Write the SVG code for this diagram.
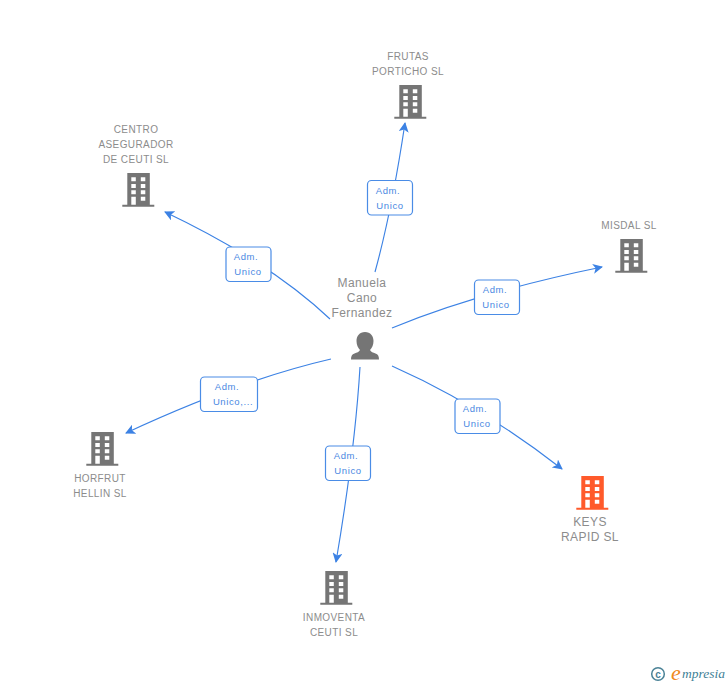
<svg xmlns="http://www.w3.org/2000/svg" width="728" height="685" viewBox="0 0 728 685">
<style>
.t{font-family:"Liberation Sans",Arial,sans-serif;font-size:10px;fill:#8c8c8c;text-anchor:middle;letter-spacing:.4px}
.p{font-size:12px}
.k{font-size:12px}
.l{font-family:"Liberation Sans",Arial,sans-serif;font-size:9.500px;fill:#4a88e2;text-anchor:middle;letter-spacing:.6px}
.c{fill:none;stroke:#3c82e4;stroke-width:1.150}
.b{fill:#fff;stroke:#4a8ce6;stroke-width:1.200}
</style>
<defs>
<marker id="a" markerWidth="12" markerHeight="10" refX="9" refY="5" orient="auto" markerUnits="userSpaceOnUse"><path d="M0 0L10 5L0 10L2.500 5Z" fill="#3c82e4"/></marker>
<symbol id="bld" width="32" height="34" viewBox="0 0 32 34" overflow="visible"><path fill-rule="evenodd" d="M5 0H27.500V31.700H32V33.700H0V31.700H5ZM9 4.300V8.300H13.500V4.300ZM18.500 4.300V8.300H23V4.300ZM9 11V15H13.500V11ZM18.500 11V15H23V11ZM9 17.300V21.300H13.500V17.300ZM18.500 17.300V21.300H23V17.300ZM9 23.700V31.700H13.500V23.700ZM18.500 23.700V27.700H23V23.700Z"/></symbol>
</defs>
<g id="connectors">
<path class="c" d="M375 272Q392 210 405 123" marker-end="url(#a)"/>
<path class="c" d="M330 319Q270 262 165 212" marker-end="url(#a)"/>
<path class="c" d="M392 328Q480 292 602 267" marker-end="url(#a)"/>
<path class="c" d="M392 366Q480 405 562 469" marker-end="url(#a)"/>
<path class="c" d="M331 359Q240 380 126 433" marker-end="url(#a)"/>
<path class="c" d="M360 367Q355 450 336 562" marker-end="url(#a)"/>
</g>
<g id="label-frutas"><rect class="b" x="367.500" y="180.500" width="45" height="34.500" rx="4"/><text class="l" x="388" y="194">Adm.</text><text class="l" x="390" y="209">Unico</text></g>
<g id="label-centro"><rect class="b" x="226" y="247" width="45" height="34.500" rx="4"/><text class="l" x="246" y="260">Adm.</text><text class="l" x="248" y="275">Unico</text></g>
<g id="label-misdal"><rect class="b" x="474.500" y="280" width="45" height="34.500" rx="4"/><text class="l" x="495" y="293">Adm.</text><text class="l" x="496" y="308">Unico</text></g>
<g id="label-keys"><rect class="b" x="455" y="399" width="45" height="34.500" rx="4"/><text class="l" x="475" y="412">Adm.</text><text class="l" x="477" y="427">Unico</text></g>
<g id="label-horfrut"><rect class="b" x="200.500" y="377" width="57" height="34.500" rx="4"/><text class="l" x="227" y="390">Adm.</text><text class="l" x="233" y="405">Unico,...</text></g>
<g id="label-inmoventa"><rect class="b" x="325.500" y="446" width="45" height="34.500" rx="4"/><text class="l" x="346" y="459">Adm.</text><text class="l" x="348" y="474">Unico</text></g>
<g id="person"><text class="t p" x="362" y="287">Manuela</text><text class="t p" x="362" y="302">Cano</text><text class="t p" x="362" y="317">Fernandez</text>
<path fill="#757575" d="M365 332C370.500 332 373.500 336 373.500 341C373.500 345 372 348 370 350C371 352 373 352.500 375.500 353.500C378 354.500 379 356 379 359.500H351C351 356 352 354.500 354.500 353.500C357 352.500 359 352 360 350C358 348 356.500 345 356.500 341C356.500 336 359.500 332 365 332Z"/></g>
<g id="n-frutas"><use href="#bld" x="394.300" y="85" fill="#757575"/><text class="t" x="408" y="60">FRUTAS</text><text class="t" x="408" y="75">PORTICHO SL</text></g>
<g id="n-centro"><use href="#bld" x="122.300" y="173" fill="#757575"/><text class="t" x="136" y="133">CENTRO</text><text class="t" x="136" y="148">ASEGURADOR</text><text class="t" x="136" y="163">DE CEUTI SL</text></g>
<g id="n-misdal"><use href="#bld" x="615.300" y="239" fill="#757575"/><text class="t" x="629" y="229">MISDAL SL</text></g>
<g id="n-keys"><use href="#bld" x="576.300" y="476" fill="#ff5a2b"/><text class="t k" x="590" y="526">KEYS</text><text class="t k" x="590" y="541">RAPID SL</text></g>
<g id="n-horfrut"><use href="#bld" x="86.300" y="432" fill="#757575"/><text class="t" x="100" y="482">HORFRUT</text><text class="t" x="100" y="497">HELLIN SL</text></g>
<g id="n-inmoventa"><use href="#bld" x="320.300" y="571" fill="#757575"/><text class="t" x="334" y="621">INMOVENTA</text><text class="t" x="334" y="636">CEUTI SL</text></g>
<g id="logo"><circle cx="658" cy="674" r="6.300" fill="none" stroke="#4a8296" stroke-width="1.500"/><text x="658" y="677.500" font-family="Liberation Sans,sans-serif" font-size="10" font-weight="bold" fill="#4a8296" text-anchor="middle">c</text><text x="671" y="679.500" font-family="Liberation Serif,serif" font-style="italic" font-size="22" fill="#f08a1c">e</text><text x="682" y="678" font-family="Liberation Serif,serif" font-style="italic" font-size="13.500" fill="#3f7f96">mpresia</text></g>
</svg>
